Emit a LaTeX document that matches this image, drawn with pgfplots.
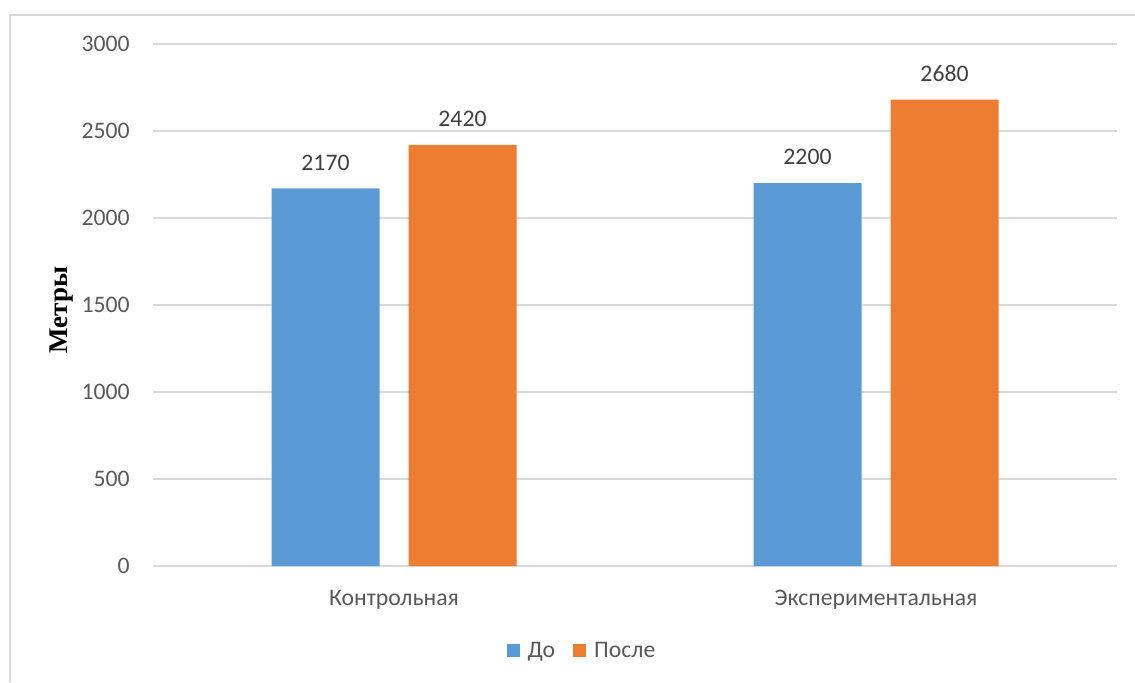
\documentclass[border=0pt]{standalone}
\usepackage{fontspec}
\setmainfont{Carlito}
\newfontfamily\labelserif{Liberation Serif}
\usepackage{pgfplots}
\pgfplotsset{compat=1.18}

\definecolor{gridgray}{HTML}{D9D9D9}
\definecolor{ticktext}{HTML}{595959}
\definecolor{valtext}{HTML}{404040}
\definecolor{before}{HTML}{5B9BD5}
\definecolor{after}{HTML}{ED7D31}

\newcommand{\chartfont}{\fontsize{11.85}{14}\selectfont}

\pgfplotsset{
  square legend/.style={
    legend image code/.code={\fill[##1] (0pt,-3.25pt) rectangle (6.5pt,3.25pt);}},
}

\begin{document}
\begin{tikzpicture}[x=0.5pt,y=-0.5pt]
\useasboundingbox (0,0) rectangle (1135,682);
% chart area frame
\draw[gridgray, line width=0.75pt] (10,682) -- (10,15) -- (1135,15);
\begin{axis}[
  at={(76.5pt,-283pt)}, anchor=south west,
  scale only axis, width=482pt, height=261pt,
  xmin=-0.5, xmax=1.5, ymin=0, ymax=3000,
  xtick={0,1}, xticklabels={Контрольная, Экспериментальная},
  ytick={0,500,...,3000},
  axis line style={draw=none},
  major tick length=0pt,
  ymajorgrids, grid style={gridgray, line width=0.75pt},
  tick label style={font=\chartfont, text=ticktext},
  /pgf/number format/assume math mode=true,
  /pgf/number format/1000 sep={},
  yticklabel style={anchor=east, inner sep=0pt, xshift=-11.5pt},
  xticklabel style={anchor=center, inner sep=0pt, yshift=-17pt},
  ylabel={Метры},
  every axis y label/.style={at={(axis description cs:-0.0944,0.49)}, rotate=90, anchor=center},
  ylabel style={font=\labelserif\bfseries\fontsize{13.5}{16}\selectfont, text=black},
  legend style={at={(axis description cs:0.446,-0.1628)}, anchor=center, draw=none,
    font=\chartfont, text=ticktext, legend columns=-1,
    /tikz/every odd column/.append style={column sep=2pt},
    /tikz/every even column/.append style={column sep=7pt}},
  ybar=14.5pt, bar width=54pt,
  nodes near coords,
  every node near coord/.append style={font=\chartfont, text=valtext, anchor=center, yshift=13pt},
]
\addplot[fill=before, draw=none, square legend] coordinates {(0,2170) (1,2200)};
\addplot[fill=after, draw=none, square legend] coordinates {(0,2420) (1,2680)};
\legend{До, После}
\end{axis}
\end{tikzpicture}
\end{document}
